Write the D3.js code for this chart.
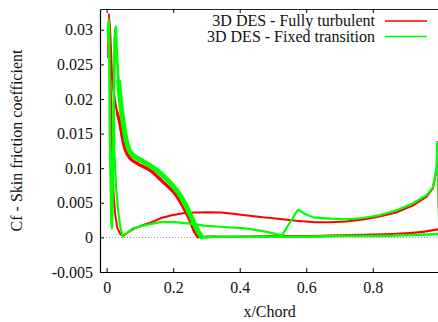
<!DOCTYPE html>
<html>
<head>
<meta charset="utf-8">
<script src="https://cdn.jsdelivr.net/npm/d3@7"></script>
<style>
  html, body { margin: 0; padding: 0; background: #fff; }
  svg { display: block; }
  text { font-family: "Liberation Serif", "Times New Roman", serif; fill: #111; }
</style>
</head>
<body>
<svg id="chart" width="438" height="322"></svg>
<script>
// Series names (legend order)
const seriesNames = ["3D DES - Fully turbulent", "3D DES - Fixed transition"];
const seriesColors = ["#ff0000", "#00ff00"];

// Axis ticks
const xTicks = [0, 0.2, 0.4, 0.6, 0.8];
const xTickLabels = ["0", "0.2", "0.4", "0.6", "0.8"];
const yTicks = [-0.005, 0, 0.005, 0.01, 0.015, 0.02, 0.025, 0.03];
const yTickLabels = ["-0.005", "0", "0.005", "0.01", "0.015", "0.02", "0.025", "0.03"];

// Fully turbulent: suction side [x/c, Cf]
const redUpper = [
  [0.005, 0.0260], [0.0069, 0.0323], [0.0126, 0.0274], [0.0166, 0.0231],
  [0.0247, 0.0198], [0.032, 0.0180], [0.040, 0.0164], [0.048, 0.0142],
  [0.055, 0.0128], [0.062, 0.0120], [0.075, 0.0112], [0.095, 0.0106],
  [0.130, 0.0097], [0.165, 0.0082], [0.205, 0.0063], [0.230, 0.0044],
  [0.250, 0.0025], [0.265, 0.0008], [0.275, 0.0001], [0.300, 0.0001],
  [0.400, 0.0001], [0.500, 0.0002], [0.600, 0.0002], [0.700, 0.0003],
  [0.800, 0.0004], [0.900, 0.0006], [0.950, 0.0008], [1.000, 0.0012]
];

// Fully turbulent: pressure side [x/c, Cf]
const redLower = [
  [0.008, 0.0300], [0.012, 0.0220], [0.016, 0.0130], [0.020, 0.0070],
  [0.025, 0.0035], [0.032, 0.0014], [0.042, 0.0004], [0.050, 0.0003],
  [0.060, 0.0006], [0.080, 0.0012], [0.110, 0.0018], [0.135, 0.0022],
  [0.165, 0.0028], [0.195, 0.0032], [0.230, 0.0035], [0.265, 0.0036],
  [0.300, 0.00365], [0.345, 0.0036], [0.380, 0.0034], [0.416, 0.0032],
  [0.470, 0.0029], [0.515, 0.0027], [0.570, 0.0024], [0.626, 0.0022],
  [0.672, 0.0022], [0.720, 0.0023], [0.770, 0.0026], [0.820, 0.0030],
  [0.870, 0.0036], [0.920, 0.0046], [0.962, 0.0059], [0.981, 0.0071],
  [0.992, 0.0098], [0.995, 0.0138], [1.000, 0.0012]
];

// Fixed transition: suction side [x/c, Cf]
const greenUpper = [
  [0.004, 0.0290], [0.006, 0.0315], [0.008, 0.0260], [0.010, 0.0150],
  [0.013, 0.0060], [0.0155, 0.0013], [0.019, 0.0120], [0.023, 0.0250],
  [0.027, 0.0305], [0.031, 0.0262], [0.036, 0.0225], [0.042, 0.0195],
  [0.048, 0.0172], [0.055, 0.0150], [0.062, 0.0134], [0.070, 0.0124],
  [0.080, 0.0118], [0.105, 0.0111], [0.145, 0.0099], [0.185, 0.0082],
  [0.215, 0.0065], [0.235, 0.0049], [0.255, 0.0029], [0.270, 0.0013],
  [0.285, 0.0001], [0.320, 0.0001], [0.400, 0.0001], [0.500, 0.0001],
  [0.600, 0.0001], [0.700, 0.0002], [0.800, 0.0002], [0.900, 0.0003],
  [1.000, 0.0005]
];

// Fixed transition: pressure side [x/c, Cf]
const greenLower = [
  [0.024, 0.0290], [0.022, 0.0200], [0.023, 0.0125], [0.028, 0.0075],
  [0.034, 0.0040], [0.041, 0.0015], [0.048, 0.0001], [0.060, 0.0006],
  [0.079, 0.0013], [0.109, 0.0017], [0.160, 0.0022], [0.205, 0.0022],
  [0.250, 0.0020], [0.295, 0.0017], [0.350, 0.0015], [0.416, 0.0013],
  [0.470, 0.0009], [0.527, 0.0003], [0.575, 0.0040], [0.600, 0.0033],
  [0.620, 0.0029], [0.672, 0.0027], [0.720, 0.0026], [0.770, 0.0028],
  [0.820, 0.0032], [0.870, 0.0039], [0.920, 0.0049], [0.962, 0.0061],
  [0.981, 0.0073], [0.992, 0.0101], [0.994, 0.0137], [1.000, 0.0005]
];

const svg = d3.select("#chart");
const W = 438, H = 322;
const plot = { left: 100, right: 439.3, top: 9, bottom: 272 };

const x = d3.scaleLinear().domain([-0.02, 1]).range([plot.left, plot.right]);
const y = d3.scaleLinear().domain([-0.005, 0.033]).range([plot.bottom, plot.top]);

// Zero reference line
svg.append("line")
  .attr("x1", plot.left).attr("x2", W)
  .attr("y1", Math.round(y(0)) + 0.5).attr("y2", Math.round(y(0)) + 0.5)
  .attr("stroke", "#999").attr("stroke-width", 1)
  .attr("stroke-dasharray", "1,2");

// Curves: the turbulent stretch of the suction side is drawn heavier,
// as the spanwise cuts spread into a band there
const smooth = d3.line().x(d => x(d[0])).y(d => y(d[1]))
  .curve(d3.curveCatmullRom.alpha(0.5));
const straight = d3.line().x(d => x(d[0])).y(d => y(d[1]));
const band = ([x0, x1]) => d => d.filter(p => p[0] >= x0 && p[0] <= x1);
const curves = [
  { data: redUpper, color: seriesColors[0], width: 2.2, gen: smooth },
  { data: band([0.03, 0.28])(redUpper), color: seriesColors[0], width: 3.2, gen: smooth },
  { data: redLower, color: seriesColors[0], width: 2, gen: straight },
  { data: greenUpper, color: seriesColors[1], width: 2.6, gen: smooth },
  { data: band([0.036, 0.29])(greenUpper), color: seriesColors[1], width: 5, gen: smooth },
  { data: greenLower, color: seriesColors[1], width: 2.2, gen: straight }
];
svg.append("clipPath").attr("id", "plotclip")
  .append("rect").attr("x", plot.left).attr("y", plot.top)
  .attr("width", plot.right - plot.left).attr("height", plot.bottom - plot.top);
svg.append("g").attr("clip-path", "url(#plotclip)")
  .selectAll("path").data(curves).join("path")
  .attr("d", d => d.gen(d.data))
  .attr("fill", "none")
  .attr("stroke", d => d.color)
  .attr("stroke-width", d => d.width)
  .attr("stroke-linejoin", "round")
  .attr("stroke-linecap", "round");

// Axes (ticks point inward)
const yAxis = d3.axisLeft(y).tickValues(yTicks)
  .tickFormat((d, i) => yTickLabels[i]).tickSizeInner(-4).tickSizeOuter(0).tickPadding(7);
const gy = svg.append("g").attr("transform", `translate(${plot.left},0)`).call(yAxis);

const xAxis = d3.axisBottom(x).tickValues(xTicks)
  .tickFormat((d, i) => xTickLabels[i]).tickSizeInner(-4).tickSizeOuter(0).tickPadding(10);
const gx = svg.append("g").attr("transform", `translate(0,${plot.bottom})`).call(xAxis);

const gTop = svg.append("g").attr("transform", `translate(0,${plot.top})`)
  .call(d3.axisTop(x).tickValues(xTicks).tickFormat("").tickSizeInner(-4).tickSizeOuter(0));

[gy, gx, gTop].forEach(g => {
  g.select(".domain").attr("stroke", "#000").attr("stroke-width", 1.2);
  g.selectAll(".tick line").attr("stroke", "#000");
  g.selectAll("text").attr("font-size", 16).attr("fill", "#111")
    .style("font-family", "'Liberation Serif', serif");
});
gTop.select(".domain").attr("stroke", "#222");

// Axis titles
svg.append("text")
  .attr("x", (plot.left + plot.right) / 2).attr("y", 317)
  .attr("text-anchor", "middle").attr("font-size", 16)
  .text("x/Chord");
svg.append("text")
  .attr("transform", `translate(22,${(plot.top + plot.bottom) / 2}) rotate(-90)`)
  .attr("text-anchor", "middle").attr("font-size", 16)
  .text("Cf - Skin friction coefficient");

// Legend
const legend = svg.append("g");
seriesNames.forEach((name, i) => {
  const ly = 21 + i * 15.5;
  legend.append("text")
    .attr("x", 375).attr("y", ly).attr("dy", "0.33em")
    .attr("text-anchor", "end").attr("font-size", 16)
    .text(name);
  legend.append("line")
    .attr("x1", 385).attr("x2", 427).attr("y1", ly).attr("y2", ly)
    .attr("stroke", seriesColors[i]).attr("stroke-width", 1.5);
});
</script>
</body>
</html>
